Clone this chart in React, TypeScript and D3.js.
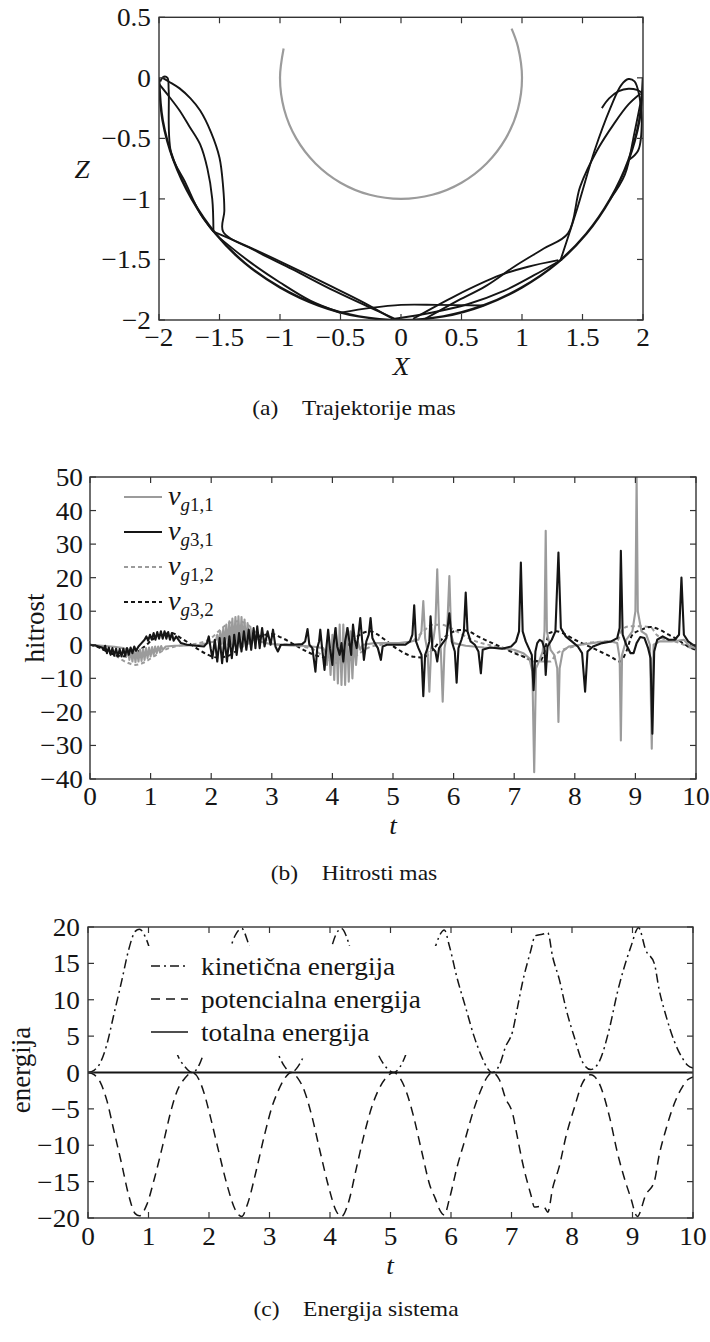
import React from 'react';
import * as d3 from 'd3';

type P = [number, number];

// ---------------- Panel (a): trajectories ----------------
const aXTicks = [-2, -1.5, -1, -0.5, 0, 0.5, 1, 1.5, 2];
const aYTicks = [-2, -1.5, -1, -0.5, 0, 0.5];

const grayTrajectory: P[] = [
  [-0.97, 0.242], [-1, 0], [-0.966, -0.259], [-0.866, -0.5], [-0.707, -0.707], [-0.5, -0.866],
  [-0.259, -0.966], [0, -1], [0.259, -0.966], [0.5, -0.866], [0.707, -0.707], [0.866, -0.5],
  [0.966, -0.259], [1, 0], [0.966, 0.259], [0.914, 0.407],
];

const trajCircle: P[] = [
  [-2, 0], [-1.97, -0.35], [-1.88, -0.68], [-1.73, -1.0], [-1.53, -1.29], [-1.29, -1.53], [-1.0, -1.73],
  [-0.68, -1.88], [-0.35, -1.97], [0, -2], [0.35, -1.97], [0.68, -1.88], [1.0, -1.73], [1.29, -1.53],
  [1.53, -1.29], [1.73, -1.0], [1.88, -0.68], [1.97, -0.35], [2, 0],
];
const trajArcA: P[] = [
  [-1.97, 0], [-1.92, -0.03], [-1.83, -0.087], [-1.74, -0.17], [-1.66, -0.27], [-1.57, -0.45],
  [-1.5, -0.66], [-1.47, -0.9], [-1.46, -1.1], [-1.47, -1.27], [-1.2, -1.43], [-0.9, -1.58],
  [-0.55, -1.76], [-0.25, -1.9], [-0.05, -1.99],
];
const trajArcB: P[] = [
  [-2, -0.05], [-1.92, -0.15], [-1.83, -0.27], [-1.75, -0.4], [-1.66, -0.55], [-1.6, -0.75],
  [-1.56, -1.0], [-1.55, -1.27],
];
const trajChordC: P[] = [
  [-1.99, -0.03], [-1.96, 0.01], [-1.93, 0.0], [-1.92, -0.1], [-1.9, -0.62], [-1.78, -0.87],
  [-1.66, -1.12], [-1.55, -1.27],
];
const trajChordBottom: P[] = [
  [-1.55, -1.27], [-1.25, -1.4], [-0.95, -1.54], [-0.6, -1.71], [-0.3, -1.86], [-0.07, -1.99],
];
const trajChordLow: P[] = [
  [-1.49, -1.33], [-1.25, -1.52], [-1.0, -1.69], [-0.75, -1.84], [-0.5, -1.94],
];
const trajFlatArc: P[] = [
  [-0.5, -1.94], [-0.25, -1.9], [0.0, -1.875], [0.3, -1.875], [0.68, -1.88],
];
const trajRightChord: P[] = [
  [-0.05, -1.99], [0.25, -1.94], [0.55, -1.87], [0.85, -1.76], [1.1, -1.63], [1.33, -1.5],
];
const trajRightArc: P[] = [
  [0.1, -1.99], [0.45, -1.8], [0.82, -1.63], [1.05, -1.56], [1.3, -1.506],
];
const trajBigArc: P[] = [
  [0.2, -1.99], [0.45, -1.85], [0.7, -1.72], [0.95, -1.55], [1.18, -1.41], [1.38, -1.285],
  [1.48, -0.9], [1.62, -0.6], [1.76, -0.38], [1.88, -0.22], [1.98, -0.13],
];
const trajSteep: P[] = [
  [1.32, -1.5], [1.45, -1.1], [1.6, -0.6], [1.73, -0.25], [1.82, -0.06], [1.88, -0.01],
  [1.93, -0.03], [1.97, -0.15], [1.99, -0.35], [1.96, -0.6], [1.88, -0.68],
];
const trajPeakArc: P[] = [
  [1.66, -0.25], [1.72, -0.17], [1.8, -0.11], [1.88, -0.09], [1.95, -0.1], [2.0, -0.13],
];
const trajEdge: P[] = [[2.0, 0.0], [2.0, -0.15]];
const trajEdgeChord: P[] = [[2.0, -0.1], [1.93, -0.45], [1.85, -0.8], [1.73, -1.0]];

const blackTrajectories: P[][] = [
  trajCircle, trajArcA, trajArcB, trajChordC, trajChordBottom, trajChordLow, trajFlatArc,
  trajRightChord, trajRightArc, trajBigArc, trajSteep, trajPeakArc, trajEdge, trajEdgeChord,
];

// ---------------- Panel (b): velocities ----------------
const bXTicks = [0, 1, 2, 3, 4, 5, 6, 7, 8, 9, 10];
const bYTicks = [-40, -30, -20, -10, 0, 10, 20, 30, 40, 50];

const vg11: P[] = [
  [0, 0], [0.2, -0.3], [0.4, -0.6], [0.55, -1],
  [0.58, -1.2], [0.6, -3.5], [0.625, -1.3], [0.65, -4.5], [0.675, -1.5], [0.7, -5], [0.725, -1.5],
  [0.75, -5.2], [0.775, -1.5], [0.8, -5], [0.825, -1.4], [0.85, -4.8], [0.875, -1.2], [0.9, -4.5],
  [0.925, -1], [0.95, -4], [0.975, -0.8], [1.0, -3.5], [1.025, -0.7], [1.05, -3], [1.075, -0.5],
  [1.1, -2.5], [1.125, -0.5], [1.15, -2], [1.175, -0.4], [1.2, -1.5], [1.25, -0.5],
  [1.4, -0.3], [1.6, -0.2], [1.8, 0], [1.95, 0.5], [2.05, 1],
  [2.08, 1.5], [2.1, 3], [2.125, 0.5], [2.15, 4], [2.175, 0.3], [2.2, 5], [2.225, 0.2], [2.25, 6],
  [2.275, 0], [2.3, 7], [2.325, 0], [2.35, 7.8], [2.375, -0.3], [2.4, 8.3], [2.425, -0.5], [2.45, 8.5],
  [2.475, -0.5], [2.5, 8.3], [2.525, -0.3], [2.55, 7.5], [2.575, 0], [2.6, 6.5], [2.625, 0.3],
  [2.65, 5], [2.675, 0.5], [2.7, 3.5], [2.725, 0.8], [2.75, 2.5], [2.8, 1],
  [2.9, 0.5], [3.1, 0], [3.3, -0.2], [3.5, -0.3], [3.7, -0.6], [3.85, -1],
  [3.88, -2], [3.91, -6], [3.94, 1], [3.97, -9], [4.0, 3], [4.03, -10.5], [4.06, 5], [4.09, -11.5],
  [4.12, 6], [4.15, -12], [4.18, 6], [4.21, -12], [4.24, 5], [4.27, -11], [4.3, 4], [4.33, -10],
  [4.36, 2], [4.39, -6], [4.42, 1], [4.46, -1.5], [4.5, 0],
  [4.7, 0.5], [4.9, 0.5], [5.1, 0.5], [5.3, 1], [5.42, 1.5], [5.47, 4], [5.5, 13], [5.53, 2],
  [5.57, -2], [5.6, -14], [5.63, -1], [5.67, 2], [5.7, 6], [5.73, 22.5], [5.76, 5], [5.79, -2],
  [5.82, -17], [5.85, -1], [5.89, 3], [5.93, 20.5], [5.96, 3], [6.0, 0.5], [6.2, -0.3], [6.5, -0.8],
  [6.8, -1], [7.0, -1.5], [7.15, -2.5], [7.25, -4], [7.3, -8], [7.33, -38], [7.36, -7], [7.42, -4.5],
  [7.47, -2], [7.5, 4], [7.52, 34], [7.54, 4], [7.6, -1.5], [7.66, -3], [7.71, -7], [7.73, -23],
  [7.75, -7], [7.8, -2], [7.9, -0.5], [8.1, 0], [8.4, 0.8], [8.6, 1], [8.7, 0.5], [8.74, -4],
  [8.76, -28.5], [8.78, -3], [8.85, 1.5], [8.95, 4], [9.0, 10], [9.02, 50], [9.04, 10], [9.1, 4],
  [9.18, 3], [9.24, 0], [9.27, -31], [9.3, 0], [9.4, 1], [9.6, 1], [9.8, 1.5], [9.9, -0.5], [10, -1],
];

const vg31: P[] = [
  [0, 0], [0.1, -0.3], [0.2, -0.8],
  [0.22, -1.5], [0.25, -0.3], [0.28, -2.5], [0.31, -0.8], [0.34, -3], [0.37, -1], [0.4, -3.3],
  [0.43, -1.2], [0.46, -3.5], [0.49, -1.3], [0.52, -3.5], [0.55, -1.2], [0.58, -3.3], [0.61, -1],
  [0.64, -3], [0.67, -0.8], [0.7, -2.5], [0.73, -0.5], [0.76, -1.8], [0.8, -0.5],
  [0.85, 0.5], [0.9, 1.5],
  [0.93, 2.5], [0.96, 1.2], [0.99, 3], [1.02, 1.5], [1.05, 3.5], [1.08, 1.5], [1.11, 3.8], [1.14, 1.8],
  [1.17, 4], [1.2, 1.8], [1.23, 4], [1.26, 1.8], [1.29, 3.8], [1.32, 1.5], [1.35, 3.5], [1.38, 1.2],
  [1.42, 2.5],
  [1.5, 0.5], [1.6, 0], [1.75, -0.3], [1.88, -0.5], [1.93, 0.5], [1.96, 2.5], [1.99, -1],
  [2.02, -4], [2.06, 1.5], [2.1, -5], [2.14, 2], [2.18, -5.5], [2.22, 2], [2.26, -5], [2.3, 2.5],
  [2.34, -4], [2.38, 3], [2.42, -3], [2.46, 3.5], [2.5, -2], [2.54, 4], [2.58, -1.5], [2.62, 4.5],
  [2.66, -1.5], [2.7, 5], [2.73, -1], [2.76, 5.5], [2.8, -1], [2.84, 5], [2.88, -0.5], [2.93, 4],
  [2.98, 0], [3.02, 4.5], [3.06, -0.5], [3.1, -2], [3.15, 0],
  [3.2, 0], [3.35, 0], [3.5, 0.2], [3.55, 1], [3.59, 4.7], [3.62, 0], [3.67, -1], [3.72, -8],
  [3.75, -1], [3.78, 1], [3.8, 4.5], [3.83, -1], [3.87, -7.5], [3.9, -1], [3.93, 4.5], [3.96, -1],
  [4.0, -6], [4.02, 0], [4.05, 5], [4.08, -0.5], [4.12, -3], [4.15, 0.5], [4.18, -5], [4.21, 1],
  [4.25, 5], [4.28, 1], [4.31, -3], [4.34, 6], [4.37, 1.5], [4.4, -1], [4.43, 3], [4.46, 8],
  [4.49, 1.5], [4.52, -4.5], [4.56, 1], [4.6, 3], [4.63, 8], [4.66, 2], [4.7, 0.5], [4.75, -1],
  [4.8, -4.5], [4.83, -0.5], [4.9, 0], [5.0, 0], [5.1, 0], [5.2, 0], [5.28, 1], [5.32, 3],
  [5.35, 11.8], [5.38, 1], [5.42, -1], [5.47, -3], [5.5, -15.3], [5.53, -3], [5.57, -1], [5.6, 1],
  [5.62, 8.5], [5.65, -1], [5.7, -2], [5.73, -5], [5.76, -1], [5.82, 0.5], [5.88, 2], [5.93, 9.4],
  [5.97, 1], [6.02, -2], [6.05, -11.3], [6.08, -1], [6.13, 1.5], [6.17, 4], [6.2, 15.6], [6.23, 4],
  [6.28, 1], [6.35, 0], [6.41, -2], [6.45, -8.5], [6.48, -1.5], [6.6, -0.8], [6.8, -1.2],
  [6.95, -0.5], [7.03, 1], [7.08, 4], [7.11, 24.5], [7.14, 4], [7.19, 1], [7.24, -1], [7.29, -3],
  [7.32, -13.5], [7.35, -2], [7.38, 0.5], [7.42, 1.5], [7.46, 1], [7.5, -1], [7.52, -9], [7.55, -0.5],
  [7.62, 1.5], [7.68, 4], [7.73, 27.5], [7.77, 5], [7.85, 2.5], [7.95, 1], [8.05, -0.5], [8.12, -2.5],
  [8.17, -14], [8.21, -2], [8.3, -0.5], [8.45, 0.5], [8.6, 1], [8.7, 2], [8.74, 5], [8.76, 28],
  [8.79, 3], [8.85, 0], [8.92, -2.5], [8.97, -2.5], [9.02, 0.5], [9.08, 2.3], [9.15, 2], [9.21, -1],
  [9.25, -4], [9.28, -26.5], [9.31, -2], [9.36, 1.5], [9.45, 2.5], [9.55, 1.5], [9.65, 1.5],
  [9.72, 3], [9.76, 20], [9.8, 3], [9.87, 1], [9.95, 0], [10, -0.5],
];

const vg12: P[] = [
  [0, 0], [0.2, -1], [0.4, -3], [0.6, -5.2], [0.75, -6], [0.9, -5.2], [1.05, -3.5], [1.2, -1.8],
  [1.4, -0.5], [1.6, 0], [1.8, 0.5], [2.0, 2], [2.15, 4.5], [2.3, 6.5], [2.45, 7], [2.6, 6],
  [2.75, 3.5], [2.9, 1.5], [3.05, 0.2], [3.3, 0], [3.5, -0.5], [3.7, -1.5], [3.85, -3.5], [4.0, -5],
  [4.15, -5.5], [4.3, -4.5], [4.45, -2.5], [4.6, -0.8], [4.8, 0], [5.0, 0.5], [5.2, 0.5], [5.35, 1.5],
  [5.5, 4], [5.65, 6], [5.8, 6], [5.95, 5], [6.1, 3.5], [6.3, 1.5], [6.5, 0.3], [6.7, -0.5],
  [6.9, -1.5], [7.1, -3], [7.25, -4.5], [7.35, -5], [7.6, -5], [7.68, -3], [7.8, -1.5], [8.0, -0.5],
  [8.2, 0.5], [8.5, 1], [8.7, 1.2], [8.78, 4.5], [8.9, 5.5], [9.1, 5.5], [9.25, 5.2], [9.35, 3],
  [9.5, 1.5], [9.65, 1], [9.8, 0], [9.95, -1], [10, -1],
];

const vg32: P[] = [
  [0, 0], [0.15, -0.8], [0.3, -2.2], [0.45, -3.2], [0.6, -3.5], [0.75, -2.5], [0.9, -0.5], [1.05, 1.8],
  [1.2, 3.2], [1.35, 3.5], [1.5, 2], [1.65, 0.3], [1.8, -1.5], [1.95, -3], [2.1, -3.8], [2.25, -3.5],
  [2.4, -2], [2.55, -0.2], [2.7, 1.5], [2.85, 2.8], [3.0, 3.2], [3.15, 2.2], [3.3, 0.8], [3.45, -0.8],
  [3.6, -2.2], [3.75, -3.3], [3.9, -3.8], [4.05, -3], [4.2, -1], [4.35, 1.5], [4.5, 3.5], [4.62, 4],
  [4.75, 3], [4.9, 1], [5.05, -1], [5.2, -2.6], [5.35, -3.6], [5.5, -3.8], [5.65, -1.5], [5.8, 1.5],
  [5.95, 3.5], [6.1, 4.4], [6.25, 4], [6.4, 2.5], [6.55, 1.2], [6.7, 0], [6.85, -1.2], [7.0, -2.5],
  [7.15, -3.5], [7.3, -4.5], [7.42, -5], [7.5, -2], [7.58, 3.5], [7.7, 4], [7.85, 3], [8.0, 1.5],
  [8.15, 0.2], [8.3, -1], [8.45, -2.3], [8.6, -3.6], [8.75, -5], [8.85, -2], [8.95, 3], [9.1, 4.5],
  [9.25, 5.3], [9.4, 4.5], [9.55, 3], [9.7, 1.5], [9.85, -0.3], [10, -1.5],
];

// ---------------- Panel (c): energies ----------------
const cXTicks = [0, 1, 2, 3, 4, 5, 6, 7, 8, 9, 10];
const cYTicks = [-20, -15, -10, -5, 0, 5, 10, 15, 20];

const kinetic: P[] = [
  [0, 0], [0.1, 0.3], [0.2, 1.3], [0.31, 3.8], [0.42, 7.7], [0.56, 12.7], [0.67, 16.8], [0.78, 19.4],
  [0.85, 19.7], [0.97, 18.2], [1.1, 14.5], [1.25, 9.5], [1.38, 5], [1.47, 2.6], [1.6, 0.8], [1.72, 0],
  [1.83, 0.9], [1.91, 2.6], [2.02, 6], [2.15, 10.5], [2.3, 15.5], [2.43, 18.8], [2.54, 19.8],
  [2.64, 18], [2.78, 13.5], [2.92, 8.5], [3.05, 4.5], [3.14, 2.6], [3.26, 0.7], [3.36, 0], [3.47, 0.8],
  [3.58, 2.6], [3.7, 6], [3.84, 11], [3.98, 15.8], [4.1, 19], [4.19, 19.8], [4.3, 18], [4.44, 13],
  [4.58, 8], [4.7, 4.5], [4.79, 2.6], [4.93, 0.7], [5.05, 0], [5.16, 0.8], [5.26, 2.6], [5.38, 6],
  [5.52, 11], [5.65, 15.5], [5.74, 17.3], [5.82, 19], [5.89, 19.6], [5.97, 17.5], [6.1, 13],
  [6.24, 9], [6.38, 5], [6.5, 2.3], [6.6, 0.6], [6.68, 0], [6.8, 1], [6.9, 3.5], [7.02, 5.7],
  [7.1, 9], [7.18, 12.3], [7.32, 16.8], [7.39, 18.8], [7.51, 19], [7.6, 19.2], [7.68, 15.9],
  [7.79, 12.8], [7.9, 8.8], [8.04, 4.8], [8.17, 1.5], [8.31, 0.4], [8.45, 1.5], [8.62, 6.1],
  [8.75, 11], [8.85, 14.1], [8.97, 17.2], [9.1, 19.9], [9.22, 16.8], [9.36, 15], [9.44, 11.4],
  [9.55, 7.9], [9.69, 4.3], [9.83, 1.9], [9.91, 1], [10, 0.6],
];

const potential: P[] = [
  [0, 0], [0.1, -0.3], [0.2, -1.3], [0.31, -3.8], [0.42, -7.7], [0.56, -12.7], [0.67, -16.8],
  [0.78, -19.4], [0.85, -19.7], [0.97, -18.2], [1.1, -14.5], [1.25, -9.5], [1.38, -5], [1.47, -2.6],
  [1.6, -0.8], [1.72, 0], [1.83, -0.9], [1.91, -2.6], [2.02, -6], [2.15, -10.5], [2.3, -15.5],
  [2.43, -18.8], [2.54, -19.8], [2.64, -18], [2.78, -13.5], [2.92, -8.5], [3.05, -4.5], [3.14, -2.6],
  [3.26, -0.7], [3.36, 0], [3.47, -0.8], [3.58, -2.6], [3.7, -6], [3.84, -11], [3.98, -15.8],
  [4.1, -19], [4.19, -19.8], [4.3, -18], [4.44, -13], [4.58, -8], [4.7, -4.5], [4.79, -2.6],
  [4.93, -0.7], [5.05, 0], [5.16, -0.8], [5.26, -2.6], [5.38, -6], [5.52, -11], [5.65, -15.5],
  [5.74, -17.3], [5.82, -19], [5.89, -19.6], [5.97, -17.5], [6.1, -13], [6.24, -9], [6.38, -5],
  [6.5, -2.3], [6.6, -0.6], [6.68, 0], [6.8, -1], [6.9, -3.5], [7.02, -5.7], [7.1, -9], [7.18, -12.3],
  [7.32, -16.8], [7.38, -18.5], [7.49, -18.4], [7.55, -18.6], [7.6, -19.2], [7.68, -15.9],
  [7.79, -12.9], [7.9, -8.8], [8.04, -4.8], [8.17, -1.5], [8.31, -0.3], [8.45, -1.5], [8.62, -6.1],
  [8.75, -11], [8.85, -14.1], [8.97, -17.2], [9.08, -19.8], [9.22, -16.8], [9.36, -15], [9.44, -11.4],
  [9.55, -7.9], [9.69, -4.3], [9.83, -1.9], [9.91, -1], [10, -0.6],
];

const totalEnergy: P[] = [[0, 0], [2.5, 0], [5, 0], [7.5, 0], [10, 0]];

const energyLegend = ['kinetična energija', 'potencialna energija', 'totalna energija'];

// ---------------- helpers ----------------
const FONT = '"Liberation Serif","Times New Roman",Times,serif';
const SX = 1.05;
const INK = '#151515';
const GRAY = '#9b9b9b';

function fmt(v: number) {
  return String(v).replace('-', '\u2212');
}

function Txt(props: {
  x: number; y: number; children: React.ReactNode; anchor?: string; size?: number;
  italic?: boolean; rotate?: boolean; fill?: string; sx?: number;
}) {
  const { x, y, children, anchor = 'middle', size = 26, italic = false, rotate = false, fill = INK, sx = SX } = props;
  const tr = rotate
    ? `translate(${x},${y}) rotate(-90) scale(1,${sx})`
    : `translate(${x},${y}) scale(${sx},1)`;
  return (
    <text transform={tr} textAnchor={anchor as any} fontFamily={FONT} fontSize={size}
      fontStyle={italic ? 'italic' : 'normal'} fill={fill}>
      {children}
    </text>
  );
}

function Frame(props: {
  x: d3.ScaleLinear<number, number>; y: d3.ScaleLinear<number, number>;
  xTicks: number[]; yTicks: number[]; xLabelY: number; yLabelX: number; tickSize?: number;
}) {
  const { x, y, xTicks, yTicks, xLabelY, yLabelX, tickSize = 26 } = props;
  const [x0, x1] = x.range();
  const [yb, yt] = y.range();
  const tl = 6;
  return (
    <g>
      {xTicks.map((t) => (
        <g key={'x' + t}>
          <line x1={x(t)} x2={x(t)} y1={yb} y2={yb - tl} stroke="#333" strokeWidth={1.2} />
          <line x1={x(t)} x2={x(t)} y1={yt} y2={yt + tl} stroke="#333" strokeWidth={1.2} />
          <Txt x={x(t)} y={xLabelY} size={tickSize}>{fmt(t)}</Txt>
        </g>
      ))}
      {yTicks.map((t) => (
        <g key={'y' + t}>
          <line x1={x0} x2={x0 + tl} y1={y(t)} y2={y(t)} stroke="#333" strokeWidth={1.2} />
          <line x1={x1} x2={x1 - tl} y1={y(t)} y2={y(t)} stroke="#333" strokeWidth={1.2} />
          <Txt x={yLabelX} y={y(t) + 9} size={tickSize} anchor="end">{fmt(t)}</Txt>
        </g>
      ))}
      <rect x={x0} y={yt} width={x1 - x0} height={yb - yt} fill="none" stroke="#333" strokeWidth={1.4} />
    </g>
  );
}

export default function App() {
  // Panel a scales
  const ax = d3.scaleLinear().domain([-2, 2]).range([159, 643]);
  const ay = d3.scaleLinear().domain([-2, 0.5]).range([320, 17.3]);
  const aLine = d3.line<P>().x((d) => ax(d[0])).y((d) => ay(d[1])).curve(d3.curveCatmullRom.alpha(0.5));

  // Panel b
  const bx = d3.scaleLinear().domain([0, 10]).range([90, 696]);
  const by = d3.scaleLinear().domain([-40, 50]).range([779, 477]);
  const bLine = d3.line<P>().x((d) => bx(d[0])).y((d) => by(d[1]));
  const bSmooth = d3.line<P>().x((d) => bx(d[0])).y((d) => by(d[1])).curve(d3.curveMonotoneX);

  // Panel c
  const cx = d3.scaleLinear().domain([0, 10]).range([88, 693]);
  const cy = d3.scaleLinear().domain([-20, 20]).range([1218, 927]);
  const cLine = d3.line<P>().x((d) => cx(d[0])).y((d) => cy(d[1])).curve(d3.curveMonotoneX);

  const legB = [
    { color: GRAY, dash: undefined, sub: 'g1,1' },
    { color: INK, dash: undefined, sub: 'g3,1' },
    { color: GRAY, dash: '4,3', sub: 'g1,2' },
    { color: INK, dash: '4,3', sub: 'g3,2' },
  ];
  const legC = [
    { dash: '9,4,2,4' },
    { dash: '9,6' },
    { dash: undefined },
  ];

  return (
    <svg width={710} height={1342} viewBox="0 0 710 1342"
      style={{ position: 'absolute', left: 0, top: 0, background: '#fff' }}>
      <defs>
        <clipPath id="clipA"><rect x={159} y={17.3} width={484} height={302.7} /></clipPath>
        <clipPath id="clipB"><rect x={90} y={477} width={606} height={302} /></clipPath>
        <clipPath id="clipC"><rect x={88} y={927} width={605} height={291} /></clipPath>
      </defs>
      <rect x={0} y={0} width={710} height={1342} fill="#fff" />

      {/* ---------- Panel (a) ---------- */}
      <g clipPath="url(#clipA)">
        <path d={aLine(grayTrajectory) || ''} fill="none" stroke={GRAY} strokeWidth={2.2} />
        {blackTrajectories.map((seg, i) => (
          <path key={i} d={aLine(seg) || ''} fill="none" stroke={INK} strokeWidth={i === 0 ? 2.5 : 1.9} />
        ))}
      </g>
      <Frame x={ax} y={ay} xTicks={aXTicks} yTicks={aYTicks} xLabelY={346} yLabelX={151} />
      <Txt x={401} y={375} italic size={26}>X</Txt>
      <Txt x={82} y={178} italic size={26}>Z</Txt>
      <Txt x={354} y={415} size={21} sx={1.12}>(a)&#8195;Trajektorije mas</Txt>

      {/* ---------- Panel (b) ---------- */}
      <g clipPath="url(#clipB)">
        <path d={bSmooth(vg12) || ''} fill="none" stroke={GRAY} strokeWidth={2} strokeDasharray="4,3" />
        <path d={bSmooth(vg32) || ''} fill="none" stroke={INK} strokeWidth={2} strokeDasharray="4,3" />
        <path d={bLine(vg11) || ''} fill="none" stroke={GRAY} strokeWidth={2.1} strokeLinejoin="round" />
        <path d={bLine(vg31) || ''} fill="none" stroke={INK} strokeWidth={2.1} strokeLinejoin="round" />
      </g>
      <Frame x={bx} y={by} xTicks={bXTicks} yTicks={bYTicks} xLabelY={805} yLabelX={83} />
      {legB.map((l, i) => {
        const yy = 497 + i * 35;
        return (
          <g key={i}>
            <line x1={124} x2={162} y1={yy} y2={yy} stroke={l.color} strokeWidth={2} strokeDasharray={l.dash} />
            <text transform={`translate(168,${yy + 8}) scale(${SX},1)`} fontFamily={FONT} fill={INK}>
              <tspan fontSize={27} fontStyle="italic">v</tspan>
              <tspan fontSize={18} fontStyle="italic" dy={6}>{l.sub.slice(0, 1)}</tspan>
              <tspan fontSize={18}>{l.sub.slice(1)}</tspan>
            </text>
          </g>
        );
      })}
      <Txt x={393} y={834} italic size={26}>t</Txt>
      <Txt x={44} y={628} rotate size={27}>hitrost</Txt>
      <Txt x={354} y={880} size={21} sx={1.12}>(b)&#8195;Hitrosti mas</Txt>

      {/* ---------- Panel (c) ---------- */}
      <g clipPath="url(#clipC)">
        <path d={cLine(kinetic) || ''} fill="none" stroke={INK} strokeWidth={1.5} strokeDasharray="9,4,2,4" />
        <path d={cLine(potential) || ''} fill="none" stroke={INK} strokeWidth={1.5} strokeDasharray="9,6" />
        <path d={cLine(totalEnergy) || ''} fill="none" stroke={INK} strokeWidth={2} />
      </g>
      <rect x={142} y={946} width={300} height={109} fill="#fff" />
      {energyLegend.map((name, i) => {
        const yy = 966 + i * 33;
        return (
          <g key={name}>
            <line x1={151} x2={188} y1={yy} y2={yy} stroke={INK} strokeWidth={1.5} strokeDasharray={legC[i].dash} />
            <Txt x={201} y={yy + 9} anchor="start" size={26}>{name}</Txt>
          </g>
        );
      })}
      <Frame x={cx} y={cy} xTicks={cXTicks} yTicks={cYTicks} xLabelY={1245} yLabelX={80} />
      <Txt x={390} y={1274} italic size={26}>t</Txt>
      <Txt x={30} y={1070} rotate size={27}>energija</Txt>
      <Txt x={356} y={1316} size={21} sx={1.12}>(c)&#8195;Energija sistema</Txt>
    </svg>
  );
}
